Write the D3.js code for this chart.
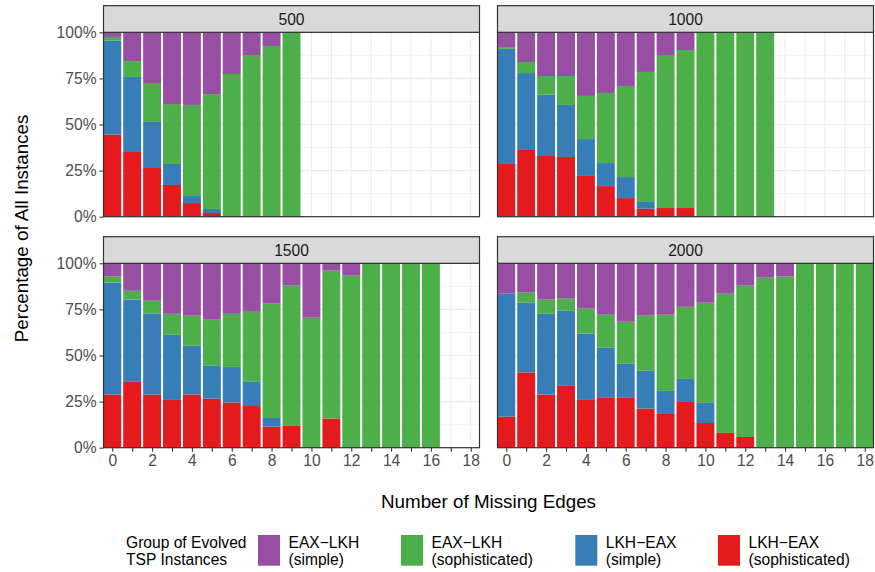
<!DOCTYPE html>
<html><head><meta charset="utf-8">
<script src="https://cdn.jsdelivr.net/npm/d3@7"></script>
<style>
html,body{margin:0;padding:0;background:#fff;}
text{font-family:"Liberation Sans",Arial,Helvetica,sans-serif;}
</style></head>
<body>
<svg id="chart" width="875" height="572"></svg>
<script>
// ---------- data ----------
const xValues = d3.range(0, 19);
const panelNames = ["500", "1000", "1500", "2000"];
const seriesKeys = ["lkhSoph", "lkhSimple", "eaxSoph", "eaxSimple"]; // stacking order bottom -> top
const seriesLabels = [["EAX\u2212LKH", "(simple)"], ["EAX\u2212LKH", "(sophisticated)"], ["LKH\u2212EAX", "(simple)"], ["LKH\u2212EAX", "(sophisticated)"]];
const legendKeys = ["eaxSimple", "eaxSoph", "lkhSimple", "lkhSoph"];
const seriesColors = {eaxSimple: "#984EA3", eaxSoph: "#4DAF4A", lkhSimple: "#377EB8", lkhSoph: "#E41A1C"};
const yTicks = [0, 25, 50, 75, 100];

// percentages per number of missing edges (index = x), null = no instances
const lkhSoph500    = [44.5, 35.1, 26.4, 17.2, 7.4, 2.0, 0, 0, 0, 0];
const lkhSimple500  = [51.0, 40.7, 25.0, 11.4, 3.8, 2.2, 0, 0, 0, 0];
const eaxSoph500    = [2.0, 8.6, 21.1, 32.5, 49.4, 62.3, 77.4, 87.7, 92.6, 100];
const eaxSimple500  = [2.5, 15.6, 27.5, 38.9, 39.4, 33.5, 22.6, 12.3, 7.4, 0];

const lkhSoph1000   = [28.6, 36.2, 32.9, 32.4, 22.1, 16.6, 10.1, 4.3, 4.7, 4.7, 0, 0, 0, 0];
const lkhSimple1000 = [62.4, 41.7, 33.3, 28.2, 20.0, 12.5, 11.4, 3.7, 0, 0, 0, 0, 0, 0];
const eaxSoph1000   = [1.0, 6.0, 10.1, 15.7, 23.4, 38.0, 49.4, 70.5, 83.0, 85.7, 100, 100, 100, 100];
const eaxSimple1000 = [8.0, 16.1, 23.7, 23.7, 34.5, 32.9, 29.1, 21.5, 12.3, 9.6, 0, 0, 0, 0];

const lkhSoph1500   = [28.8, 35.7, 28.8, 25.9, 28.8, 26.6, 24.5, 22.6, 11.4, 11.8, 0, 15.8, 0, 0, 0, 0, 0];
const lkhSimple1500 = [60.7, 44.6, 43.8, 35.3, 26.5, 17.8, 19.3, 13.1, 4.7, 0, 0, 0, 0, 0, 0, 0, 0];
const eaxSoph1500   = [3.3, 4.8, 7.1, 11.4, 16.3, 25.0, 28.8, 38.0, 62.0, 76.1, 70.5, 80.2, 93.3, 100, 100, 100, 100];
const eaxSimple1500 = [7.2, 14.9, 20.3, 27.4, 28.4, 30.6, 27.4, 26.3, 21.9, 12.1, 29.5, 4.0, 6.7, 0, 0, 0, 0];

const lkhSoph2000   = [16.8, 40.8, 28.8, 33.5, 25.9, 27.0, 27.0, 21.2, 18.3, 24.8, 13.4, 8.0, 5.8, 0, 0, 0, 0, 0, 0];
const lkhSimple2000 = [66.7, 37.8, 43.8, 40.8, 35.9, 27.2, 18.5, 20.5, 12.5, 12.5, 10.9, 0, 0, 0, 0, 0, 0, 0, 0];
const eaxSoph2000   = [0, 5.5, 7.7, 6.5, 13.6, 17.9, 22.8, 29.9, 41.3, 39.1, 54.3, 75.5, 82.1, 92.2, 92.8, 100, 100, 100, 100];
const eaxSimple2000 = [16.5, 15.9, 19.7, 19.2, 24.6, 27.9, 31.7, 28.4, 27.9, 23.6, 21.4, 16.5, 12.1, 7.8, 7.2, 0, 0, 0, 0];

const panelData = {
  "500":  {lkhSoph: lkhSoph500,  lkhSimple: lkhSimple500,  eaxSoph: eaxSoph500,  eaxSimple: eaxSimple500},
  "1000": {lkhSoph: lkhSoph1000, lkhSimple: lkhSimple1000, eaxSoph: eaxSoph1000, eaxSimple: eaxSimple1000},
  "1500": {lkhSoph: lkhSoph1500, lkhSimple: lkhSimple1500, eaxSoph: eaxSoph1500, eaxSimple: eaxSimple1500},
  "2000": {lkhSoph: lkhSoph2000, lkhSimple: lkhSimple2000, eaxSoph: eaxSoph2000, eaxSimple: eaxSimple2000}
};

// ---------- layout ----------
const svg = d3.select("#chart");
const PW = 376, PH = 184.4, SH = 26.6;
const layout = [
  {name: "500",  x0: 103.5, y0: 32.3,  left: true,  bottom: false},
  {name: "1000", x0: 497.5, y0: 32.3,  left: false, bottom: false},
  {name: "1500", x0: 103.5, y0: 263.3, left: true,  bottom: true},
  {name: "2000", x0: 497.5, y0: 263.3, left: false, bottom: true}
];
const tickCol = "#4D4D4D", borderCol = "#333333", gridCol = "#EBEBEB";
const tickFont = 15.6;

layout.forEach(p => {
  const x = d3.scaleLinear().domain([-0.44, 18.44]).range([0, PW]);
  const y = d3.scaleLinear().domain([0, 100]).range([PH, 0]);
  const g = svg.append("g").attr("transform", `translate(${p.x0},${p.y0})`);

  // background + grid
  g.append("rect").attr("width", PW).attr("height", PH).attr("fill", "#fff");
  g.selectAll(".hg").data(d3.range(0, 100.01, 12.5)).enter().append("line")
    .attr("x1", 0).attr("x2", PW).attr("y1", d => y(d)).attr("y2", d => y(d))
    .attr("stroke", gridCol).attr("stroke-width", d => d % 25 === 0 ? 1.07 : 0.6);
  g.selectAll(".vg").data(xValues).enter().append("line")
    .attr("y1", 0).attr("y2", PH).attr("x1", d => x(d)).attr("x2", d => x(d))
    .attr("stroke", gridCol).attr("stroke-width", 1.07);

  // stacked bars
  const dat = panelData[p.name];
  const n = dat.lkhSoph.length;
  const rows = d3.range(n).map(i => {
    const r = {x: i};
    seriesKeys.forEach(k => r[k] = dat[k][i]);
    return r;
  });
  const stack = d3.stack().keys(seriesKeys)(rows);
  stack.forEach(layer => {
    g.append("g").selectAll("rect").data(layer.filter(d => d[1] - d[0] > 0)).enter().append("rect")
      .attr("x", d => x(d.data.x - 0.45))
      .attr("width", x(0.45) - x(-0.45))
      .attr("y", d => y(d[1]))
      .attr("height", d => y(d[0]) - y(d[1]))
      .attr("fill", seriesColors[layer.key]);
  });

  // panel border
  g.append("rect").attr("width", PW).attr("height", PH).attr("fill", "none")
    .attr("stroke", borderCol).attr("stroke-width", 1.2);

  // strip
  const s = svg.append("g").attr("transform", `translate(${p.x0},${p.y0 - SH})`);
  s.append("rect").attr("width", PW).attr("height", SH).attr("fill", "#D9D9D9")
    .attr("stroke", borderCol).attr("stroke-width", 1.2);
  s.append("text").attr("x", PW / 2).attr("y", SH / 2).attr("dy", "0.36em")
    .attr("text-anchor", "middle").attr("font-size", tickFont).attr("fill", "#1A1A1A").text(p.name);

  // axes
  if (p.left) {
    const ay = g.append("g").call(d3.axisLeft(y).tickValues(yTicks).tickFormat(d => d + "%").tickSize(4).tickPadding(3));
    ay.select(".domain").remove();
    ay.selectAll(".tick line").attr("stroke", borderCol).attr("stroke-width", 1.07);
    ay.selectAll(".tick text").attr("font-size", tickFont).attr("fill", tickCol)
      .attr("font-family", "Liberation Sans, Arial, sans-serif");
  }
  if (p.bottom) {
    const ax = g.append("g").attr("transform", `translate(0,${PH})`)
      .call(d3.axisBottom(x).tickValues(xValues).tickFormat(d => d % 2 === 0 ? d : "").tickSize(4).tickPadding(3));
    ax.select(".domain").remove();
    ax.selectAll(".tick line").attr("stroke", borderCol).attr("stroke-width", 1.07);
    ax.selectAll(".tick text").attr("font-size", tickFont).attr("fill", tickCol)
      .attr("font-family", "Liberation Sans, Arial, sans-serif");
  }
});

// axis titles
svg.append("text").attr("x", 488.5).attr("y", 508.3).attr("text-anchor", "middle")
  .attr("font-size", 18.8).attr("fill", "#000").text("Number of Missing Edges");
svg.append("text").attr("transform", "translate(27.5,228.5) rotate(-90)").attr("text-anchor", "middle")
  .attr("font-size", 18.8).attr("fill", "#000").text("Percentage of All Instances");

// legend
const lg = svg.append("g");
const legFont = 15.6;
lg.append("text").attr("x", 126).attr("y", 548.3).attr("font-size", legFont).attr("fill", "#000").text("Group of Evolved");
lg.append("text").attr("x", 126).attr("y", 565).attr("font-size", legFont).attr("fill", "#000").text("TSP Instances");
const keyX = [258, 401, 575.3, 718];
legendKeys.forEach((k, i) => {
  lg.append("rect").attr("x", keyX[i]).attr("y", 535).attr("width", 22).attr("height", 30.7).attr("fill", seriesColors[k]);
  lg.append("text").attr("x", keyX[i] + 30.5).attr("y", 548.3).attr("font-size", legFont).attr("fill", "#000").text(seriesLabels[i][0]);
  lg.append("text").attr("x", keyX[i] + 30.5).attr("y", 565).attr("font-size", legFont).attr("fill", "#000").text(seriesLabels[i][1]);
});
</script>
</body></html>
